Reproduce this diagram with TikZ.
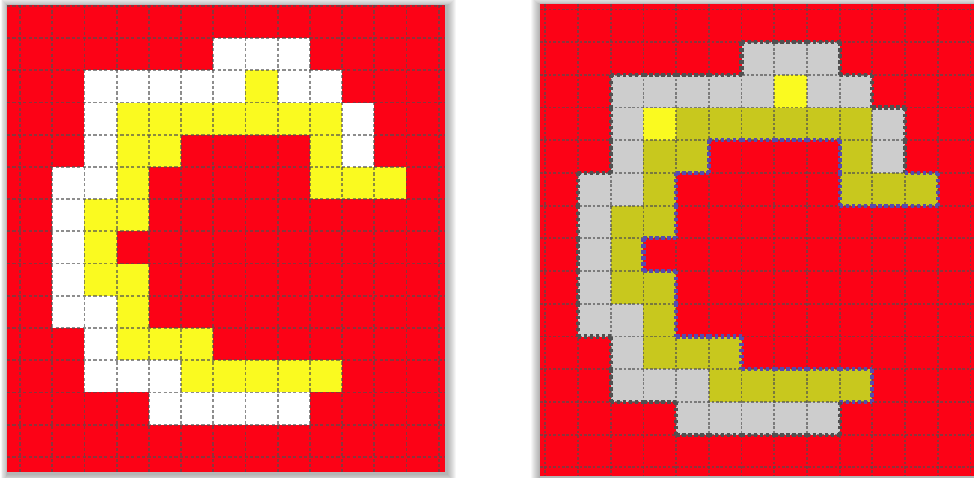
\documentclass[tikz,border=0pt]{standalone}
\usepackage{tikz}
\definecolor{cred}{RGB}{252,2,22}
\definecolor{cyel}{RGB}{250,250,32}
\definecolor{colive}{RGB}{200,200,30}
\definecolor{cgray}{RGB}{205,205,205}
\definecolor{cdark}{RGB}{80,80,80}
\definecolor{cblue}{RGB}{85,75,175}
\newcommand\cellgrid{1/6/W,1/7/W,1/8/W,2/2/W,2/3/W,2/4/W,2/5/W,2/6/W,2/7/B,2/8/W,2/9/W,3/2/W,3/3/B,3/4/Y,3/5/Y,3/6/Y,3/7/Y,3/8/Y,3/9/Y,3/10/W,4/2/W,4/3/Y,4/4/Y,4/9/Y,4/10/W,5/1/W,5/2/W,5/3/Y,5/9/Y,5/10/Y,5/11/Y,6/1/W,6/2/Y,6/3/Y,7/1/W,7/2/Y,8/1/W,8/2/Y,8/3/Y,9/1/W,9/2/W,9/3/Y,10/2/W,10/3/Y,10/4/Y,10/5/Y,11/2/W,11/3/W,11/4/W,11/5/Y,11/6/Y,11/7/Y,11/8/Y,11/9/Y,12/4/W,12/5/W,12/6/W,12/7/W,12/8/W}
\def\lfW{white}\def\lfY{cyel}\def\lfB{cyel}
\def\rfW{cgray}\def\rfY{colive}\def\rfB{cyel}
\tikzset{
  gridL/.style={draw=cdark, draw opacity=0.65, line width=1.8, dash pattern=on 3.2 off 2.2},
  gridR/.style={draw=cdark, draw opacity=0.65, line width=1.8, dash pattern=on 2.6 off 1.8},
  edgeline/.style={line width=4.2, dash pattern=on 3.4 off 2.6},
  shadowlayer/.style={fill=black, fill opacity=0.035}
}
\begin{document}
\begin{tikzpicture}[x=1pt,y=-1pt]
\useasboundingbox (0,0) rectangle (974,478);
\fill[white] (0,0) rectangle (974,478);
% register cells
\foreach \myr/\myc/\myt in \cellgrid {\expandafter\xdef\csname g-\myr-\myc\endcsname{\myt}}
% ---------------- left panel ----------------
\foreach \s in {1,...,9} \fill[shadowlayer] ({7-0.8*\s+1},{5-0.8*\s+1}) rectangle ({445+\s+1.5},{472+\s+1.5});
\fill[cred] (7,5) rectangle (445,472);
\foreach \myr/\myc/\myt in \cellgrid {
  \edef\fc{\csname lf\myt\endcsname}
  \fill[\fc] ({20+32.2*\myc},{6+32.2*\myr}) rectangle ({20+32.2*(\myc+1)},{6+32.2*(\myr+1)});
}
\foreach \i in {0,...,13} \draw[gridL] ({20+32.2*\i},5) -- ({20+32.2*\i},472);
\foreach \j in {0,...,14} \draw[gridL] (7,{6+32.2*\j}) -- (445,{6+32.2*\j});
% ---------------- right panel ----------------
\foreach \s in {1,...,9} \fill[shadowlayer] ({540-\s},{4-0.8*\s+1}) rectangle ({974+\s},{476+\s+1});
\fill[cred] (540,4) rectangle (974,476);
\foreach \myr/\myc/\myt in \cellgrid {
  \edef\fc{\csname rf\myt\endcsname}
  \fill[\fc] ({545.3+32.7*\myc},{9.5+32.7*\myr}) rectangle ({545.3+32.7*(\myc+1)},{9.5+32.7*(\myr+1)});
}
\foreach \i in {0,...,13} \draw[gridR] ({545.3+32.7*\i},4) -- ({545.3+32.7*\i},476);
\foreach \j in {0,...,14} \draw[gridR] (540,{9.5+32.7*\j}) -- (974,{9.5+32.7*\j});
% borders between coloured cells and red
\foreach \myr/\myc/\myt in \cellgrid {
  \pgfmathtruncatemacro\rup{\myr-1}
  \pgfmathtruncatemacro\rdn{\myr+1}
  \pgfmathtruncatemacro\cle{\myc-1}
  \pgfmathtruncatemacro\cri{\myc+1}
  \if\myt W\def\bc{cdark}\else\def\bc{cblue}\fi
  \pgfmathsetmacro\xa{545.3+32.7*\myc}
  \pgfmathsetmacro\xb{545.3+32.7*(\myc+1)}
  \pgfmathsetmacro\ya{9.5+32.7*\myr}
  \pgfmathsetmacro\yb{9.5+32.7*(\myr+1)}
  \ifcsname g-\rup-\myc\endcsname\else\draw[edgeline,\bc] (\xa,\ya) -- (\xb,\ya);\fi
  \ifcsname g-\rdn-\myc\endcsname\else\draw[edgeline,\bc] (\xa,\yb) -- (\xb,\yb);\fi
  \ifcsname g-\myr-\cle\endcsname\else\draw[edgeline,\bc] (\xa,\ya) -- (\xa,\yb);\fi
  \ifcsname g-\myr-\cri\endcsname\else\draw[edgeline,\bc] (\xb,\ya) -- (\xb,\yb);\fi
}
\end{tikzpicture}
\end{document}
